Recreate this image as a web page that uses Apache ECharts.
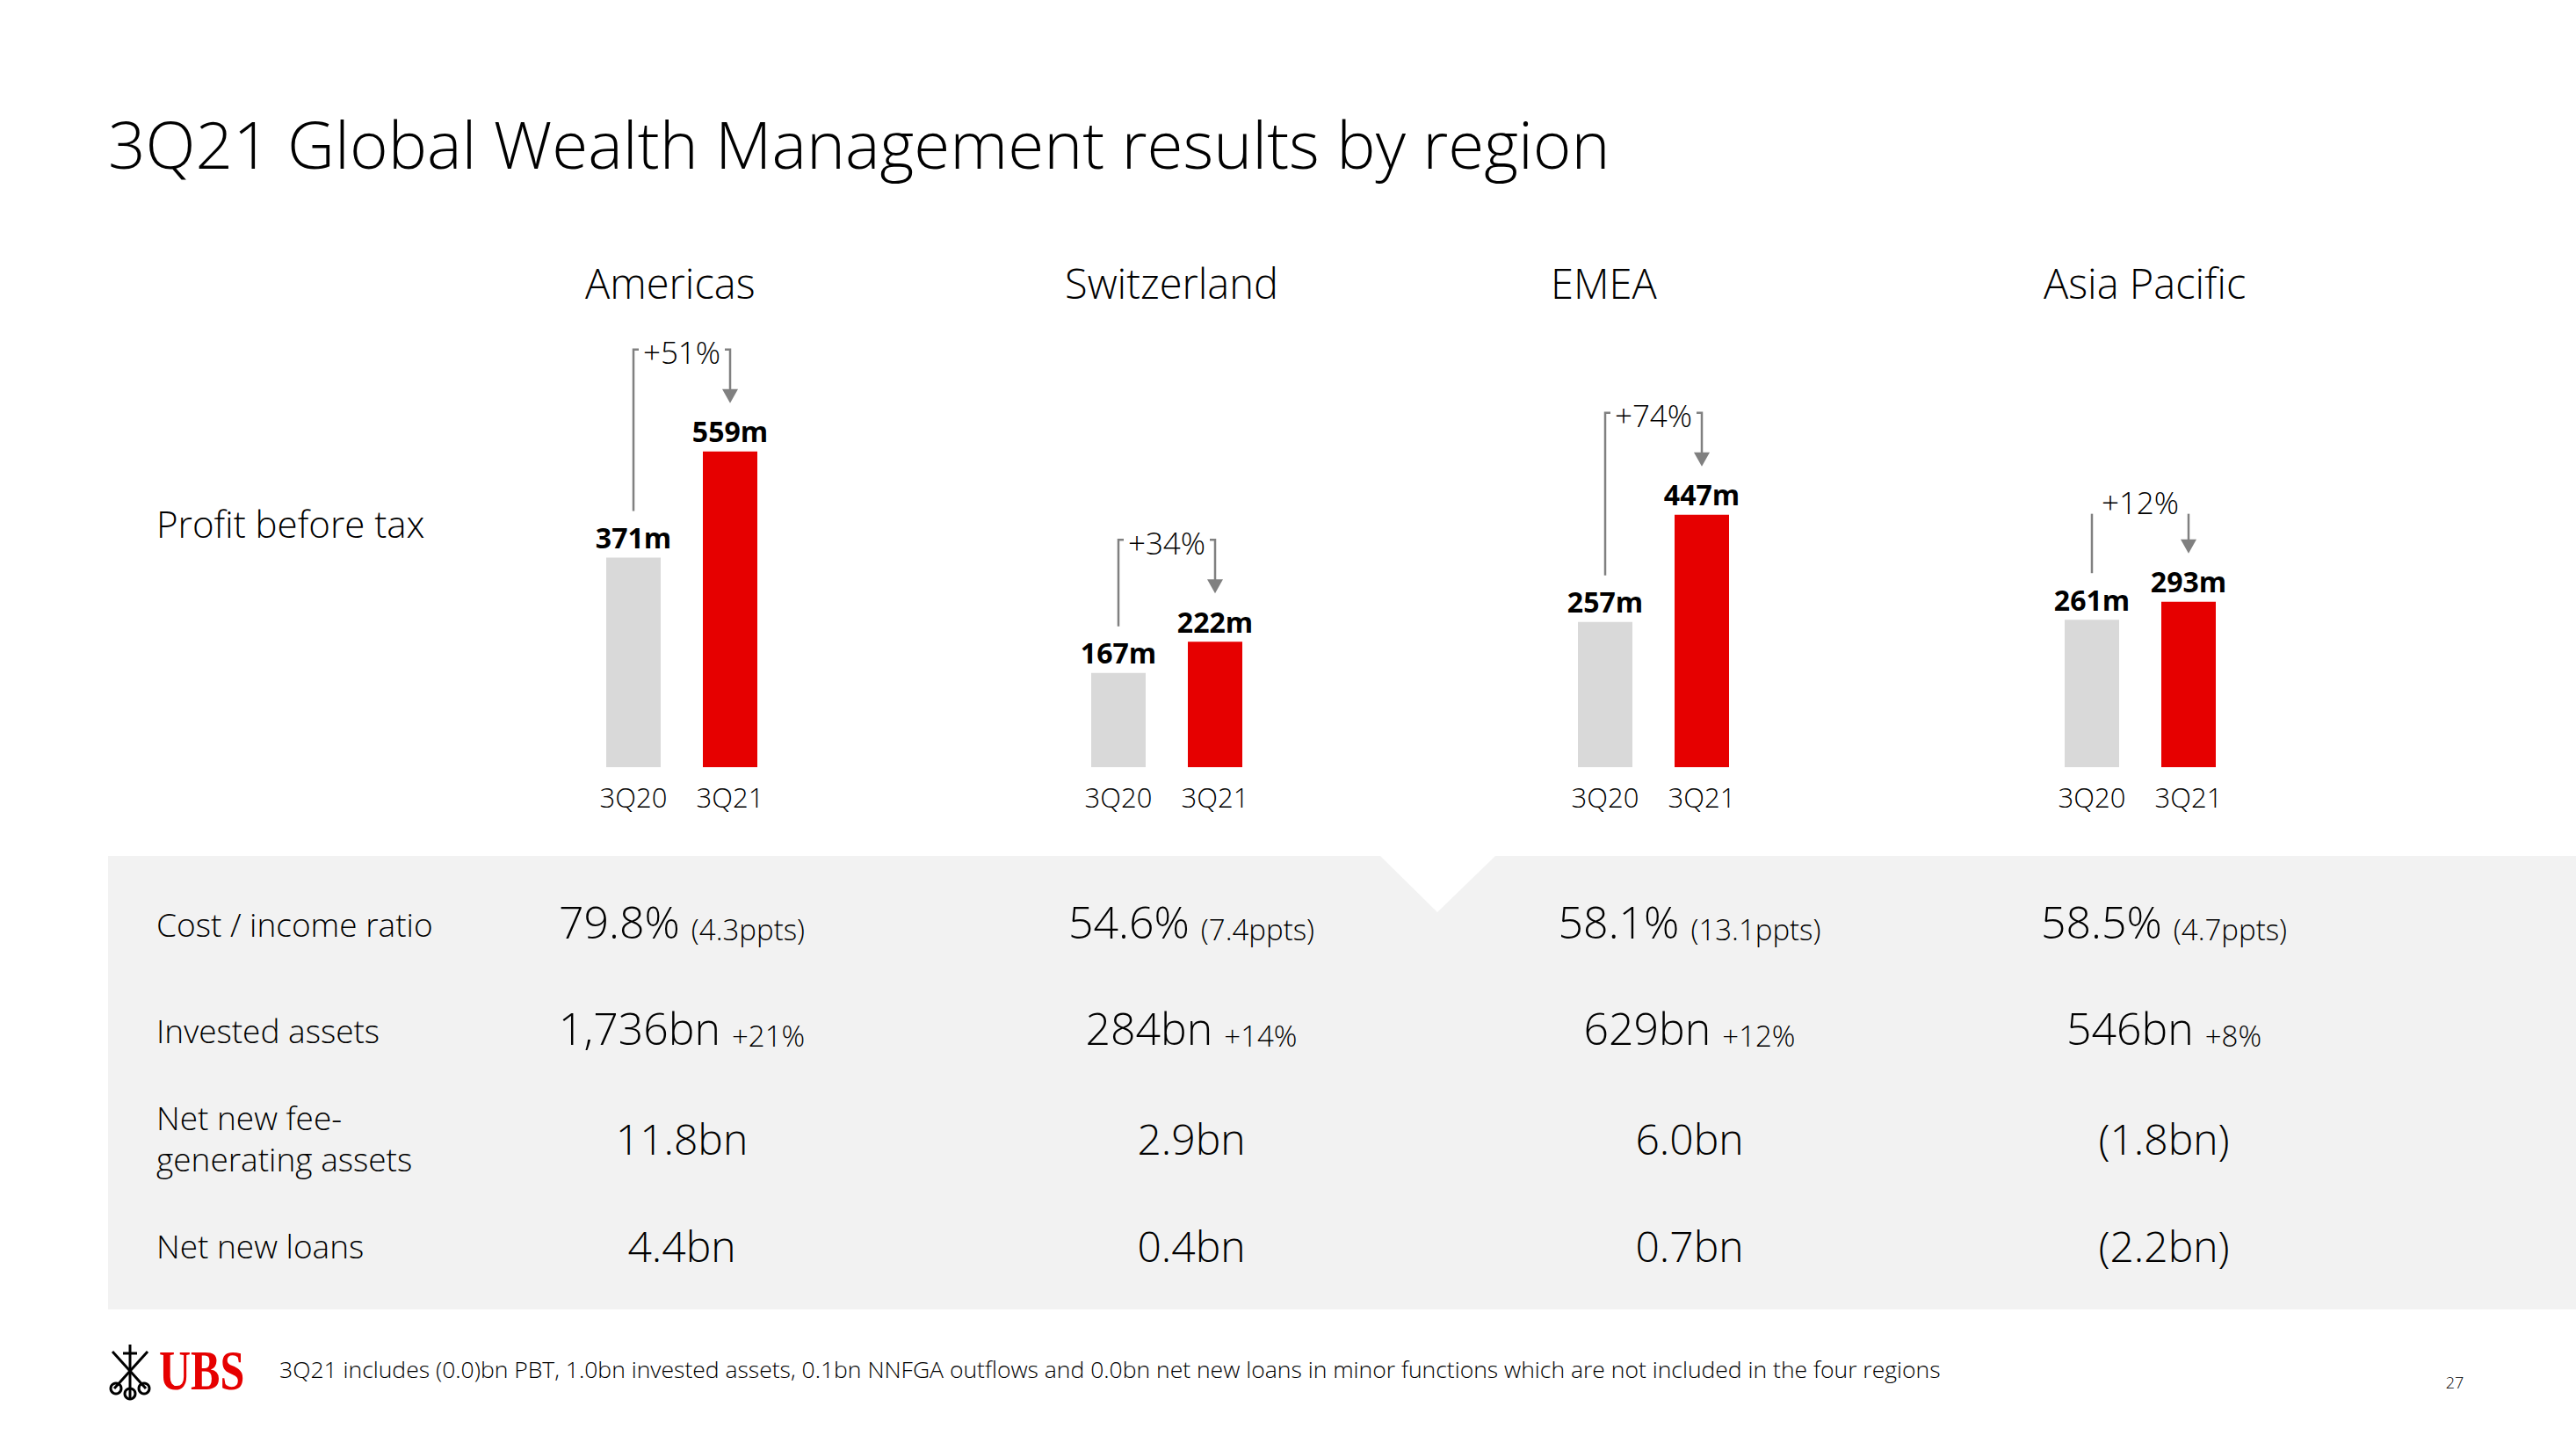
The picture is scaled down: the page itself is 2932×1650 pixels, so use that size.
<!DOCTYPE html>
<html><head><meta charset="utf-8">
<script src="https://cdn.jsdelivr.net/npm/echarts@6/dist/echarts.min.js"></script>
<style>html,body{margin:0;padding:0;background:#fff}#c{width:2932px;height:1650px}</style>
</head><body><div id="c"></div>
<script>
// ---- data ----
const regions = ['Americas', 'Switzerland', 'EMEA', 'Asia Pacific'];
const periods = ['3Q20', '3Q21'];
const pbt3Q20 = [371, 167, 257, 261];
const pbt3Q21 = [559, 222, 447, 293];
const pbtGrowth = ['+51%', '+34%', '+74%', '+12%'];
const rowLabels = ['Cost / income ratio', 'Invested assets', 'Net new fee-\ngenerating assets', 'Net new loans'];
const costIncome = ['79.8%', '54.6%', '58.1%', '58.5%'];
const costIncomeChange = ['(4.3ppts)', '(7.4ppts)', '(13.1ppts)', '(4.7ppts)'];
const investedAssets = ['1,736bn', '284bn', '629bn', '546bn'];
const investedAssetsChange = ['+21%', '+14%', '+12%', '+8%'];
const nnfga = ['11.8bn', '2.9bn', '6.0bn', '(1.8bn)'];
const netNewLoans = ['4.4bn', '0.4bn', '0.7bn', '(2.2bn)'];
const titleText = '3Q21 Global Wealth Management results by region';
const footnote = '3Q21 includes (0.0)bn PBT, 1.0bn invested assets, 0.1bn NNFGA outflows and 0.0bn net new loans in minor functions which are not included in the four regions';
const pageNo = '27';

// ---- layout / style ----
const FONT = "'Open Sans', 'Noto Sans', sans-serif";
const RED = '#E60000', GREY = '#D9D9D9', LINE = '#808080', BG = '#F2F2F2';
const gridLeft = [666, 1218, 1772, 2326];
const regionTitleX = [666, 1212, 1765, 2326];
const colCenter = [776, 1356, 1923, 2463];
const rowLabelY = [1051, 1172, 1295, 1417];
const rowValueY = [1044, 1165, 1295, 1417];
const bracketRise = [116, 116, 116, 100];
const bracketTicks = [true, true, true, false];

const chart = echarts.init(document.getElementById('c'), null, {renderer: 'svg', width: 2932, height: 1650});

function bracket(params, api) {
  const i = api.value(3);
  const a = api.coord([0, api.value(1)]);
  const b = api.coord([1, api.value(2)]);
  const top = b[1] - bracketRise[i];
  const tip = b[1] - 55;
  const leftBottom = a[1] - 53;
  const ticks = bracketTicks[i];
  const textY = ticks ? top + 3 : top - 13;
  const ls = {stroke: LINE, lineWidth: 2.5, fill: null};
  return {type: 'group', children: [
    {type: 'polyline', shape: {points: ticks ? [[a[0], leftBottom], [a[0], top], [a[0] + 6, top]] : [[a[0], leftBottom], [a[0], top]]}, style: ls},
    {type: 'polyline', shape: {points: ticks ? [[b[0] - 6, top], [b[0], top], [b[0], tip - 14]] : [[b[0], top], [b[0], tip - 14]]}, style: ls},
    {type: 'polygon', shape: {points: [[b[0] - 9, tip - 16], [b[0] + 9, tip - 16], [b[0], tip]]}, style: {fill: LINE}},
    {type: 'text', style: {text: pbtGrowth[i], x: (a[0] + b[0]) / 2, y: textY, align: 'center', verticalAlign: 'middle',
      fontSize: 35, fontFamily: FONT, fontWeight: 300, fill: '#000'}}
  ]};
}

const grids = [], xAxes = [], yAxes = [], series = [];
regions.forEach((r, i) => {
  grids.push({left: gridLeft[i], top: 423, width: 220, height: 450, containLabel: false, outerBoundsMode: 'none'});
  xAxes.push({type: 'category', gridIndex: i, data: periods, axisLine: {show: false}, axisTick: {show: false},
    axisLabel: {color: '#000', fontSize: 31, fontFamily: FONT, fontWeight: 300, margin: 18}});
  yAxes.push({type: 'value', gridIndex: i, min: 0, max: 700, show: false, splitLine: {show: false}});
  series.push({type: 'bar', xAxisIndex: i, yAxisIndex: i, barWidth: 62, silent: true,
    data: [{value: pbt3Q20[i], itemStyle: {color: GREY}}, {value: pbt3Q21[i], itemStyle: {color: RED}}],
    label: {show: true, position: 'top', distance: 7, formatter: '{c}m', fontSize: 32, fontWeight: 'bold', color: '#000', fontFamily: FONT}});
  series.push({type: 'custom', xAxisIndex: i, yAxisIndex: i, clip: false, silent: true, z: 5,
    data: [[0, pbt3Q20[i], pbt3Q21[i], i]], encode: {x: 0, y: 1}, renderItem: bracket});
});

const graphics = [];
graphics.push({type: 'polygon', z: -10, silent: true,
  shape: {points: [[123, 974], [1571, 974], [1636, 1038], [1702, 974], [2932, 974], [2932, 1490], [123, 1490]]},
  style: {fill: BG}});
function txt(text, x, y, size, opts) {
  return {type: 'text', silent: true, x: x, y: y,
    style: Object.assign({text: text, fontSize: size, fontFamily: FONT, fontWeight: 300, fill: '#000',
      align: 'left', verticalAlign: 'middle'}, (opts || {}))};
}
graphics.push(txt(titleText, 123, 163, 74.6));
regions.forEach((r, i) => graphics.push(txt(r, regionTitleX[i], 322, 47)));
graphics.push(txt('Profit before tax', 178, 595, 42));
rowLabels.forEach((r, k) => graphics.push(txt(r, 178, rowLabelY[k], 37, {lineHeight: 47})));
const rich = {a: {fontSize: 50, fontFamily: FONT, fontWeight: 300, fill: '#000', lineHeight: 60, verticalAlign: 'bottom'},
              b: {fontSize: 33, fontFamily: FONT, fontWeight: 300, fill: '#000', lineHeight: 48, verticalAlign: 'bottom'}};
regions.forEach((r, i) => {
  graphics.push(txt('{a|' + costIncome[i] + '} {b|' + costIncomeChange[i] + '}', colCenter[i], rowValueY[0], 50, {align: 'center', rich: rich}));
  graphics.push(txt('{a|' + investedAssets[i] + '} {b|' + investedAssetsChange[i] + '}', colCenter[i], rowValueY[1], 50, {align: 'center', rich: rich}));
  graphics.push(txt(nnfga[i], colCenter[i], rowValueY[2], 48, {align: 'center'}));
  graphics.push(txt(netNewLoans[i], colCenter[i], rowValueY[3], 48, {align: 'center'}));
});
graphics.push(txt(footnote, 318, 1558, 26.5));
graphics.push(txt(pageNo, 2794, 1573, 18, {align: 'center'}));
// UBS logo
graphics.push({type: 'text', silent: true, x: 181, y: 1560, scaleY: 1.25,
  style: {text: 'UBS', fontSize: 50, fontFamily: "'Liberation Serif', serif", fontWeight: 'bold', fill: RED, align: 'left', verticalAlign: 'middle'}});
const keyStyle = {stroke: '#000', lineWidth: 3, fill: null};
graphics.push({type: 'group', silent: true, children: [
  {type: 'line', shape: {x1: 148, y1: 1530, x2: 148, y2: 1592}, style: keyStyle},
  {type: 'line', shape: {x1: 128, y1: 1538, x2: 166, y2: 1580}, style: keyStyle},
  {type: 'line', shape: {x1: 168, y1: 1538, x2: 130, y2: 1580}, style: keyStyle},
  {type: 'circle', shape: {cx: 132, cy: 1580, r: 6}, style: keyStyle},
  {type: 'circle', shape: {cx: 164, cy: 1580, r: 6}, style: keyStyle},
  {type: 'circle', shape: {cx: 148, cy: 1586, r: 6}, style: keyStyle},
  {type: 'line', shape: {x1: 140, y1: 1540, x2: 156, y2: 1540}, style: keyStyle}
]});

chart.setOption({
  animation: false,
  backgroundColor: '#fff',
  grid: grids, xAxis: xAxes, yAxis: yAxes, series: series,
  graphic: {elements: graphics}
});
</script></body></html>
